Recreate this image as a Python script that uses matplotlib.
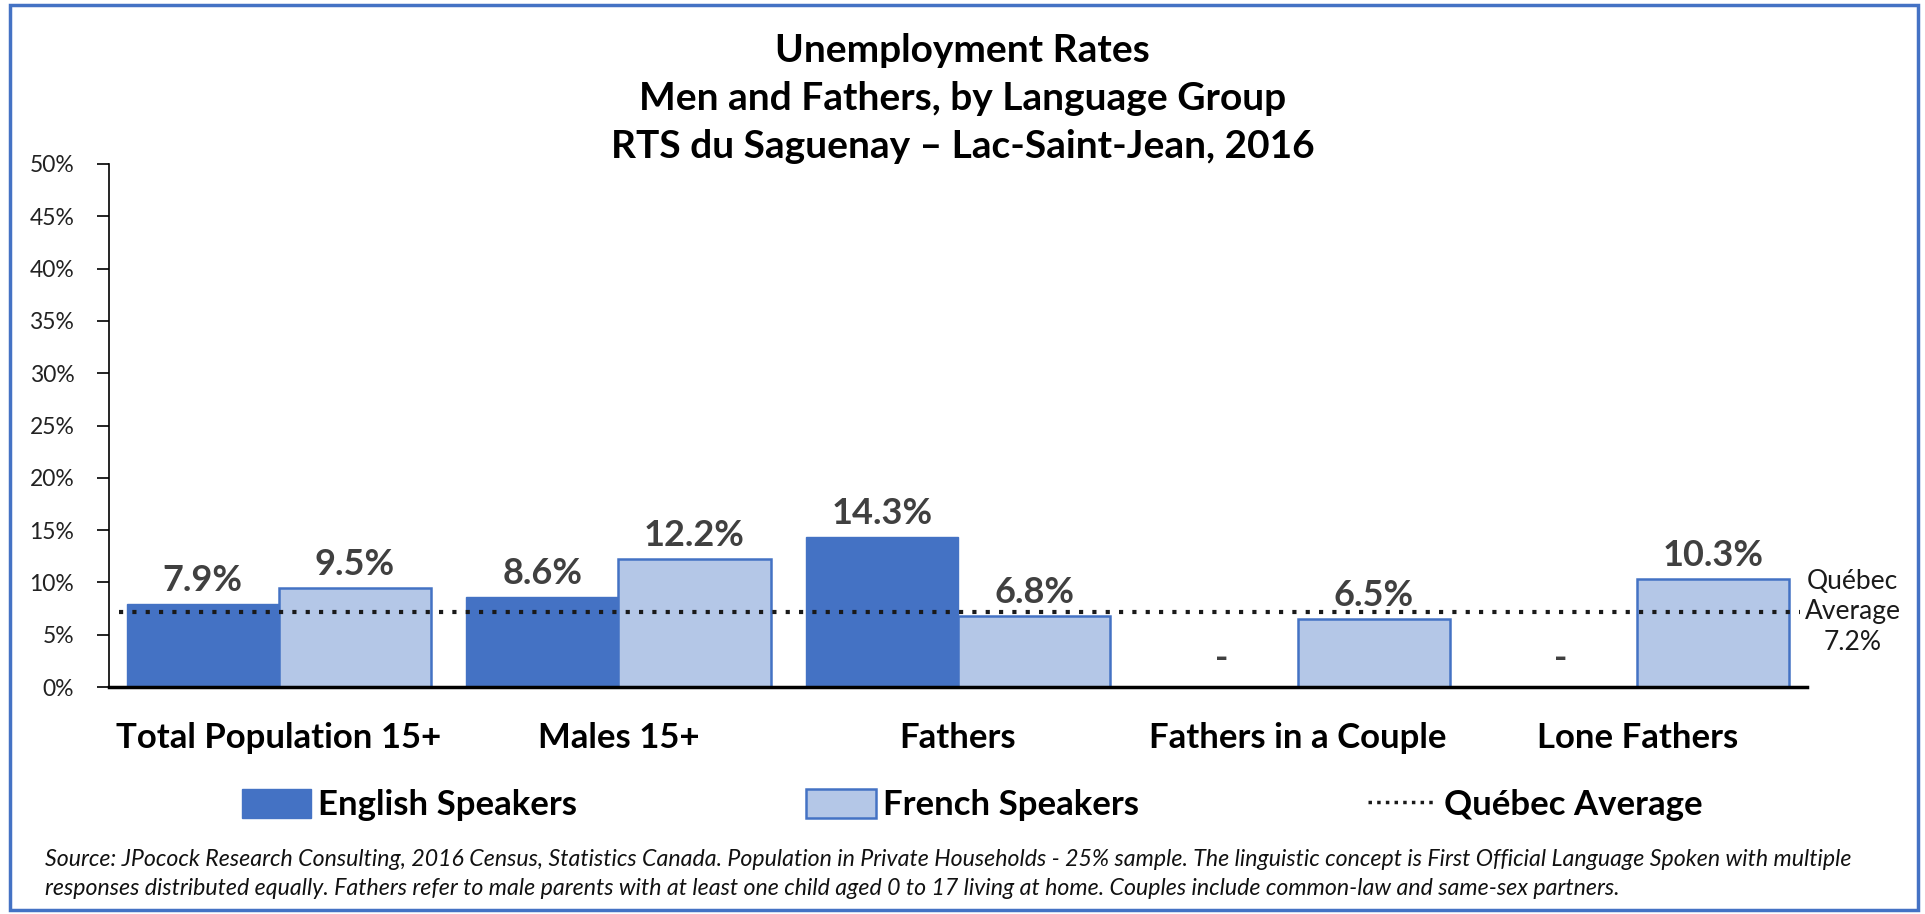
import numpy as np
import matplotlib.pyplot as plt
from matplotlib.patches import Rectangle, Patch
from matplotlib.lines import Line2D

categories = ['Total Population 15+', 'Males 15+', 'Fathers', 'Fathers in a Couple', 'Lone Fathers']
english = [7.9, 8.6, 14.3, None, None]
french = [9.5, 12.2, 6.8, 6.5, 10.3]
quebec_avg = 7.2
yticks = [0, 5, 10, 15, 20, 25, 30, 35, 40, 45, 50]

blue = '#4472C4'
light = '#B4C7E7'
label_gray = '#404040'

plt.rcParams['font.family'] = ['Lato', 'DejaVu Sans']

fig = plt.figure(figsize=(19.25, 9.14), dpi=100)
ax = fig.add_axes([109 / 1925, 1 - 687 / 914, (1807 - 109) / 1925, (687 - 164) / 914])

x = np.arange(len(categories))
w = 0.448
eng_vals = [v if v is not None else 0 for v in english]
ax.bar(x - w / 2, eng_vals, w, color=blue, edgecolor=blue, linewidth=1, label='English Speakers')
ax.bar(x + w / 2, french, w, color=light, edgecolor=blue, linewidth=1.8, label='French Speakers')

# data labels
for i, v in enumerate(english):
    if v is None:
        ax.text(x[i] - w / 2, 2.7, '-', ha='center', va='center', fontsize=26,
                fontweight='bold', color=label_gray)
    else:
        ax.annotate(f'{v}%', (x[i] - w / 2, v), xytext=(0, 5), textcoords='offset points',
                    ha='center', va='bottom', fontsize=26, fontweight='bold', color=label_gray)
for i, v in enumerate(french):
    ax.annotate(f'{v}%', (x[i] + w / 2, v), xytext=(0, 5), textcoords='offset points',
                ha='center', va='bottom', fontsize=26, fontweight='bold', color=label_gray)

# Quebec average line
ax.plot([-0.47, 4.48], [quebec_avg, quebec_avg], linestyle=(0, (1, 2.2)), color='#1a1a1a',
        linewidth=3, zorder=5)
ax.text(4.635, quebec_avg, f'Québec\nAverage\n{quebec_avg}%', ha='center', va='center',
        fontsize=19, linespacing=1.27, color='#1a1a1a', clip_on=False)

ax.set_xlim(-0.5, 4.5)
ax.set_ylim(0, 50)
ax.set_yticks(yticks)
ax.set_yticklabels([f'{t}%' for t in yticks], fontsize=16.5, color='#222222')
ax.tick_params(axis='y', length=9, width=1.2, pad=16)
ax.set_xticks(x)
ax.set_xticklabels(categories, fontsize=25, fontweight='bold')
ax.tick_params(axis='x', length=0, pad=25)
for s in ['top', 'right']:
    ax.spines[s].set_visible(False)
ax.spines['left'].set_linewidth(1.2)
ax.spines['bottom'].set_linewidth(2.5)

title_lines = ['Unemployment Rates', 'Men and Fathers, by Language Group',
               'RTS du Saguenay \u2013 Lac-Saint-Jean, 2016']
for line, yp in zip(title_lines, [50, 98, 147]):
    fig.text(0.5, 1 - yp / 914, line, ha='center', va='center', fontsize=28, fontweight='bold')

handles = [Patch(facecolor=blue, edgecolor=blue, label='English Speakers'),
           Patch(facecolor=light, edgecolor=blue, linewidth=1.8, label='French Speakers'),
           Line2D([0], [0], linestyle=(0, (1, 1.5)), color='#1a1a1a', linewidth=2.5,
                  label='Québec Average')]
leg = fig.legend(handles=handles, loc='center', bbox_to_anchor=(0.505, 1 - 805 / 914), ncol=3,
                 frameon=False, prop={'size': 25, 'weight': 'bold'}, columnspacing=6.6,
                 handlelength=2.0, handleheight=0.9, handletextpad=0.2)

source = ('Source: JPocock Research Consulting, 2016 Census, Statistics Canada. Population in Private '
          'Households - 25% sample. The linguistic concept is First Official Language Spoken with multiple\n'
          'responses distributed equally. Fathers refer to male parents with at least one child aged 0 to 17 '
          'living at home. Couples include common-law and same-sex partners.')
fig.text(45 / 1925, 1 - 874 / 914, source, ha='left', va='center', fontsize=16.7,
         style='italic', linespacing=1.5, color='#111111')

fig.patches.append(Rectangle((10 / 1925, 1 - 910 / 914), 1908 / 1925, 905 / 914,
                             transform=fig.transFigure, fill=False, edgecolor=blue, linewidth=2.5))

fig.savefig('out.png', dpi=100)
